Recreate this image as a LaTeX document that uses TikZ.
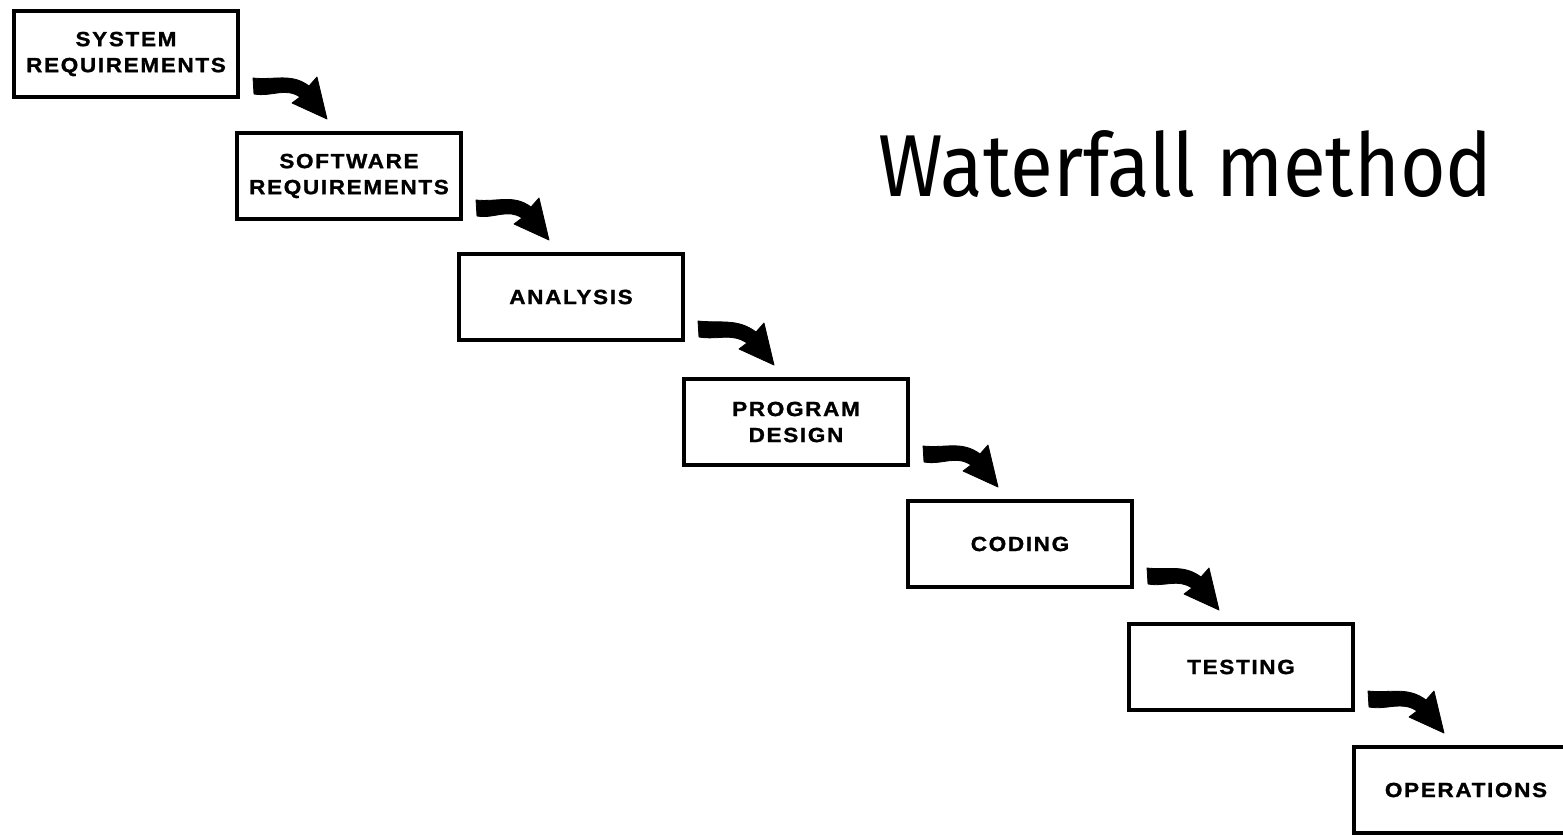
\documentclass[tikz,border=0pt]{standalone}
\usepackage{fontspec}
\setmainfont{Liberation Sans}
\newfontfamily\stagefont{Liberation Sans Bold}[FakeStretch=1.1, LetterSpace=8, FakeBold=1.2]
\newfontfamily\titlefont{Fira Sans}[FakeStretch=0.89]
\usetikzlibrary{arrows.meta}
\begin{document}
\begin{tikzpicture}[x=1pt, y=1pt,
  stage/.style={draw, line width=4pt, minimum width=224pt, minimum height=86pt,
    inner sep=0pt, align=center, font=\stagefont\fontsize{20.5}{26}\selectfont},
  flow/.style={fill=black, draw=black, line width=0.8pt, line join=round},
]
\useasboundingbox (0,0) rectangle (1563,-835);
\clip (0,0) rectangle (1563,-835);

% the seven phases, stepping down to the right
\node[stage] (sysreq) at (126,-54)  {SYSTEM\\REQUIREMENTS};
\node[stage] (swreq)  at (349,-176) {SOFTWARE\\REQUIREMENTS};
\node[stage] (anal)   at (571,-297) {ANALYSIS};
\node[stage] (design) at (796,-422) {PROGRAM\\DESIGN};
\node[stage] (code)   at (1020,-544) {CODING};
\node[stage] (test)   at (1241,-667) {TESTING};
\node[stage] (ops)    at (1466,-790) {OPERATIONS};

% heavy curved arrows from each phase to the next:
% a thick bent band leaving the lower right of one box, ending in a
% broad triangular head above the top left of the next
\foreach \a/\b in {sysreq/swreq, swreq/anal, anal/design, design/code, code/test, test/ops}
  \filldraw[flow]
    ([shift={(13,21)}]\a.south east) to[out=-6, in=143] ([shift={(74,45)}]\b.north west)
    -- ([shift={(82,54)}]\b.north west)
    -- ([shift={(92,12)}]\b.north west)
    -- ([shift={(57,28)}]\b.north west)
    -- ([shift={(65,34)}]\b.north west)
    to[out=146, in=-10] ([shift={(14,5)}]\a.south east)
    -- cycle;

% title
\node[anchor=base west, inner sep=0pt, font=\titlefont\fontsize{88}{100}\selectfont] (title) at (878,-196) {Waterfall method};
\end{tikzpicture}
\end{document}
